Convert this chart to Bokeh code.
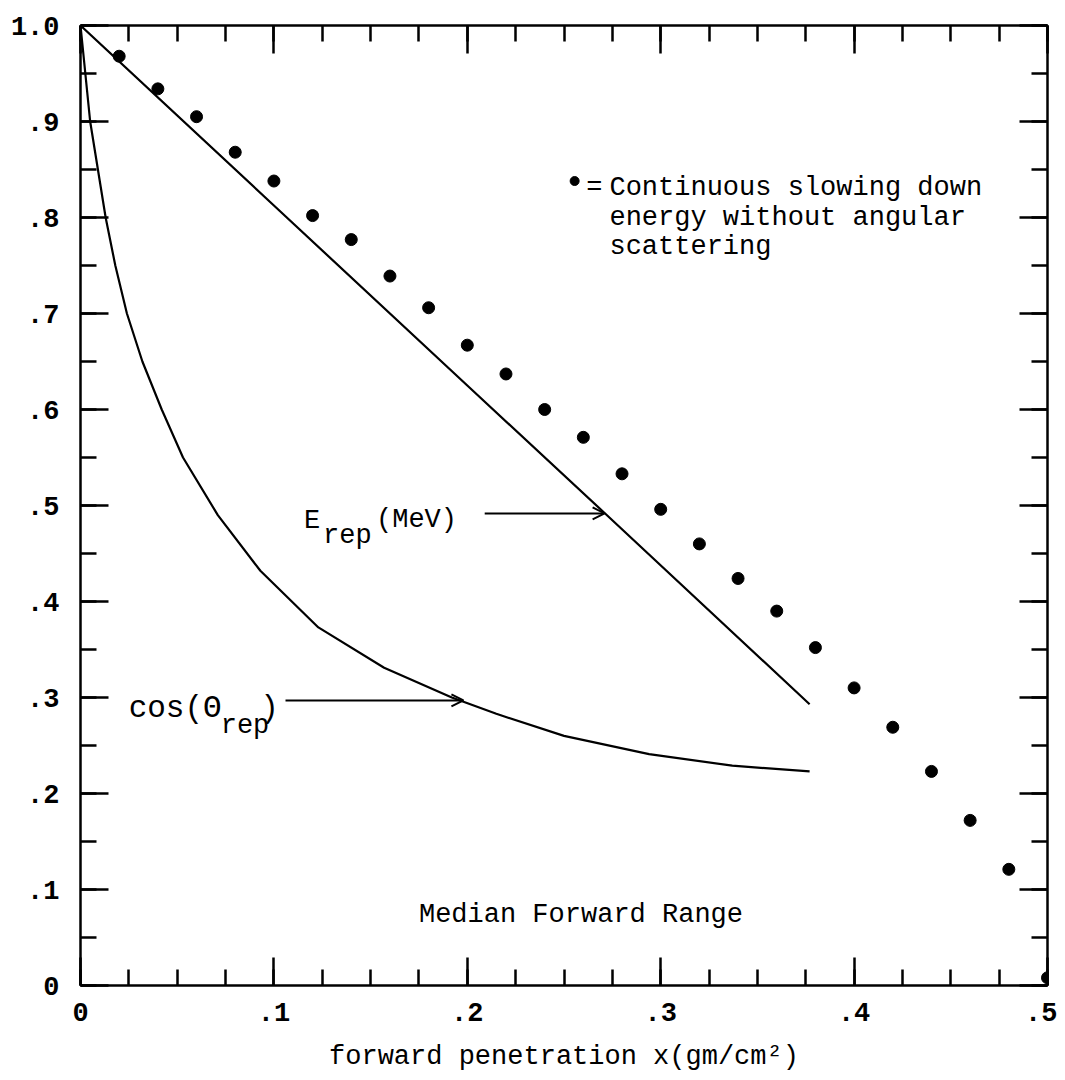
from bokeh.plotting import figure
from bokeh.models import (LinearAxis, FixedTicker, CustomJSTickFormatter, Label,
                          Arrow, OpenHead, Range1d)
from bokeh.embed import file_html
from bokeh.resources import INLINE
import numpy as np

# ---------------- data ----------------
# continuous slowing down energy without angular scattering (dots)
csda_x = [0.02, 0.04, 0.06, 0.08, 0.10, 0.12, 0.14, 0.16, 0.18, 0.20, 0.22, 0.24,
          0.26, 0.28, 0.30, 0.32, 0.34, 0.36, 0.38, 0.40, 0.42, 0.44, 0.46, 0.48, 0.50]
csda_y = [0.968, 0.934, 0.905, 0.868, 0.838, 0.802, 0.777, 0.739, 0.706, 0.667, 0.637, 0.600,
          0.571, 0.533, 0.496, 0.460, 0.424, 0.390, 0.352, 0.310, 0.269, 0.223, 0.172, 0.121, 0.008]

# E_rep (MeV) curve
erep_x = [0.0, 0.10, 0.20, 0.27, 0.377]
erep_y = [1.0, 0.8125, 0.625, 0.494, 0.293]

# cos(theta_rep) curve
cos_x = [0.0, 0.005, 0.009, 0.013, 0.018, 0.024, 0.032, 0.042, 0.053, 0.071, 0.093,
         0.123, 0.157, 0.192, 0.215, 0.25, 0.294, 0.337, 0.377]
cos_y = [1.0, 0.90, 0.85, 0.80, 0.75, 0.70, 0.65, 0.60, 0.55, 0.49, 0.432,
         0.373, 0.331, 0.300, 0.283, 0.260, 0.241, 0.229, 0.223]

x_ticks = [0.0, 0.1, 0.2, 0.3, 0.4, 0.5]
x_tick_labels = ["0", ".1", ".2", ".3", ".4", ".5"]
y_ticks = [0.0, 0.1, 0.2, 0.3, 0.4, 0.5, 0.6, 0.7, 0.8, 0.9, 1.0]
y_tick_labels = ["0", ".1", ".2", ".3", ".4", ".5", ".6", ".7", ".8", ".9", "1.0"]
x_minor = [round(v, 4) for v in np.arange(0, 0.5001, 0.025)]
y_minor = [round(v, 4) for v in np.arange(0, 1.0001, 0.05)]

FONT = "Liberation Mono"
FS = "27px"

# ---------------- figure ----------------
p = figure(frame_width=967, frame_height=960,
           x_range=Range1d(0, 0.5), y_range=Range1d(0, 1.0),
           output_backend="svg", toolbar_location=None,
           x_axis_location=None, y_axis_location=None,
           min_border_left=80, min_border_top=25, min_border_right=10,
           min_border_bottom=70, background_fill_color="white",
           border_fill_color="white")
p.grid.visible = False
p.outline_line_color = None

fmt_code = """
for (let i = 0; i < tv.length; i++) {
  if (Math.abs(tv[i] - tick) < 1e-6) return lv[i];
}
return "";
"""


def style_axis(ax, show_labels):
    ax.axis_line_color = "black"
    ax.axis_line_width = 2.5
    ax.major_tick_line_color = "black"
    ax.major_tick_line_width = 2.5
    ax.minor_tick_line_color = "black"
    ax.minor_tick_line_width = 2.5
    ax.major_tick_out = 0
    ax.minor_tick_out = 0
    ax.major_tick_in = 28
    ax.minor_tick_in = 16
    if not show_labels:
        ax.formatter = CustomJSTickFormatter(code="return '';")
        ax.major_label_text_font_size = "0px"
    else:
        ax.major_label_text_font = FONT
        ax.major_label_text_font_size = FS
        ax.major_label_text_font_style = "bold"
        ax.major_label_text_color = "black"


xt = FixedTicker(ticks=x_ticks, minor_ticks=x_minor)
yt = FixedTicker(ticks=y_ticks, minor_ticks=y_minor)

bottom = LinearAxis(ticker=xt,
                    formatter=CustomJSTickFormatter(args=dict(tv=x_ticks, lv=x_tick_labels), code=fmt_code),
                    axis_label="forward penetration x(gm/cm\u00b2)")
style_axis(bottom, True)
bottom.major_label_standoff = 17
bottom.axis_label_text_font = FONT
bottom.axis_label_text_font_size = FS
bottom.axis_label_text_font_style = "normal"
bottom.axis_label_text_color = "black"
bottom.axis_label_standoff = 18
p.add_layout(bottom, "below")

left = LinearAxis(ticker=yt,
                  formatter=CustomJSTickFormatter(args=dict(tv=y_ticks, lv=y_tick_labels), code=fmt_code))
style_axis(left, True)
left.major_label_standoff = 21
p.add_layout(left, "left")

top = LinearAxis(ticker=FixedTicker(ticks=x_ticks, minor_ticks=x_minor))
style_axis(top, False)
p.add_layout(top, "above")

right = LinearAxis(ticker=FixedTicker(ticks=y_ticks, minor_ticks=y_minor))
style_axis(right, False)
p.add_layout(right, "right")

# ---------------- glyphs ----------------
p.line(erep_x, erep_y, line_color="black", line_width=2.2)
p.line(cos_x, cos_y, line_color="black", line_width=2.2)
p.scatter(csda_x, csda_y, size=12, marker="circle", fill_color="black", line_color="black")

# legend dot
p.scatter([0.2555], [0.8380], size=9, marker="circle", fill_color="black", line_color="black")


def lab(x, y, text, size=FS, baseline="middle"):
    p.add_layout(Label(x=x, y=y, text=text, text_font=FONT, text_font_size=size,
                       text_color="black", text_align="left", text_baseline=baseline))


lab(0.2615, 0.831, "=")
lab(0.2735, 0.831, "Continuous slowing down")
lab(0.2735, 0.800, "energy without angular")
lab(0.2735, 0.769, "scattering")
lab(0.175, 0.073, "Median Forward Range")

# E_rep(MeV) label
lab(0.1155, 0.484, "E", baseline="alphabetic")
lab(0.1254, 0.468, "rep", baseline="alphabetic")
lab(0.1528, 0.485, "(MeV)", baseline="alphabetic")

# cos(theta_rep) label
lab(0.0249, 0.2885, "cos(\u0398", size="31px", baseline="alphabetic")
lab(0.0725, 0.270, "rep", baseline="alphabetic")
lab(0.0930, 0.2885, ")", size="31px", baseline="alphabetic")

# arrows
p.add_layout(Arrow(x_start=0.209, y_start=0.4917, x_end=0.271, y_end=0.4917,
                   line_color="black", line_width=2,
                   end=OpenHead(size=12, line_width=2, line_color="black")))
p.add_layout(Arrow(x_start=0.106, y_start=0.297, x_end=0.198, y_end=0.297,
                   line_color="black", line_width=2,
                   end=OpenHead(size=12, line_width=2, line_color="black")))

open("out.html", "w").write(file_html(p, INLINE))
